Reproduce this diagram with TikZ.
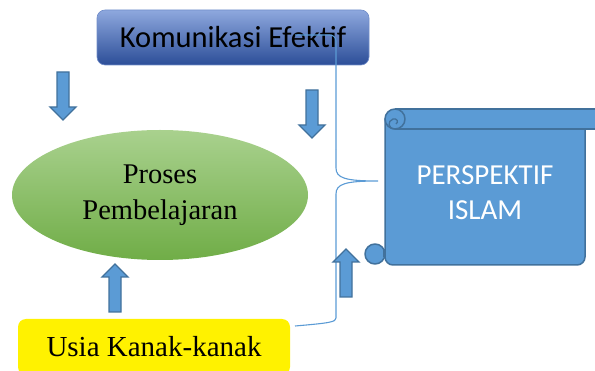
\documentclass[tikz,border=0pt]{standalone}
\usepackage{fontspec}
\setmainfont{Liberation Serif}
\newfontfamily\calibri{Carlito}
\usetikzlibrary{shapes.geometric}

\definecolor{komtop}{RGB}{142,168,222}
\definecolor{kombot}{RGB}{44,78,152}
\definecolor{greentop}{RGB}{169,209,142}
\definecolor{greenbot}{RGB}{112,173,71}
\definecolor{arrowfill}{RGB}{91,155,213}
\definecolor{arrowline}{RGB}{65,113,156}

\tikzset{
  kombox/.style={rectangle, rounded corners=8pt, minimum width=272pt, minimum height=55pt,
    top color=komtop, bottom color=kombot, draw=komtop!70!kombot, line width=0.6pt,
    font=\calibri\fontsize{30.5}{34}\selectfont},
  prosesbox/.style={ellipse, minimum width=296pt, minimum height=130pt, inner sep=0pt,
    top color=greentop, bottom color=greenbot, align=center,
    font=\fontsize{28.5}{36}\selectfont},
  usiabox/.style={rectangle, rounded corners=8pt, fill=yellow, minimum width=272pt,
    minimum height=56pt, font=\fontsize{29}{34}\selectfont},
  scroll/.style={fill=arrowfill, draw=arrowline, line width=1.5pt, line join=round},
  bracket/.style={draw=arrowfill, line width=1.1pt},
  blkarrow/.pic={
    \draw[fill=arrowfill, draw=arrowline, line width=1.4pt, line join=miter]
      (-6,0) -- (6,0) -- (6,35) -- (13,35) -- (0,48) -- (-13,35) -- (-6,35) -- cycle;
  }
}

\begin{document}
\begin{tikzpicture}[x=1pt, y=-1pt]
    \useasboundingbox (0,0) rectangle (595,371);
    \clip (0,0) rectangle (595,371);

    % boxes
    \node[kombox] (kom) at (233,37.5) {Komunikasi Efektif};
    \node[prosesbox] (proses) at (160,195) {Proses\\Pembelajaran};
    \node[usiabox] (usia) at (154,347) {Usia Kanak-kanak};

    % scroll
    \draw[scroll] (585,129) [rounded corners=8pt] -- (585,265) -- (385,265)
        [sharp corners] -- (385,119) -- cycle;
    \draw[scroll] (395,109) -- (610,109) -- (610,129) -- (395,129);
    \draw[scroll] (395,119) circle (10);
    \draw[arrowline, line width=1.3pt] (395,129) .. controls (388,129) and (387,121) .. (393,119)
        .. controls (397,118) and (399,122) .. (396,124);
    \draw[scroll] (375,254) circle (10);
    \draw[arrowline, line width=1.3pt] (384,249) -- (384,257);
    \node[text=white, align=center, font=\calibri\fontsize{29}{35}\selectfont]
        (islam) at (485,193) {PERSPEKTIF\\ISLAM};

    % brace
    \coordinate (bt) at (295,35);
    \coordinate (bm) at (378,181);
    \coordinate (bb) at (295,326);
    \draw[bracket, rounded corners=6pt] (bt) -- (336,35) -- (336,150);
    \draw[bracket] (336,150) -- (336,168) .. controls (336,178) and (345,181) .. (bm)
        .. controls (345,181) and (336,184) .. (336,194) -- (336,318)
        .. controls (336,322) and (330,323) .. (bb);

    % arrows
    \pic at (63,72) {blkarrow};
    \pic at (312,90) {blkarrow};
    \pic[rotate=180] at (115,312) {blkarrow};
    \pic[rotate=180] at (346,297) {blkarrow};
\end{tikzpicture}
\end{document}
